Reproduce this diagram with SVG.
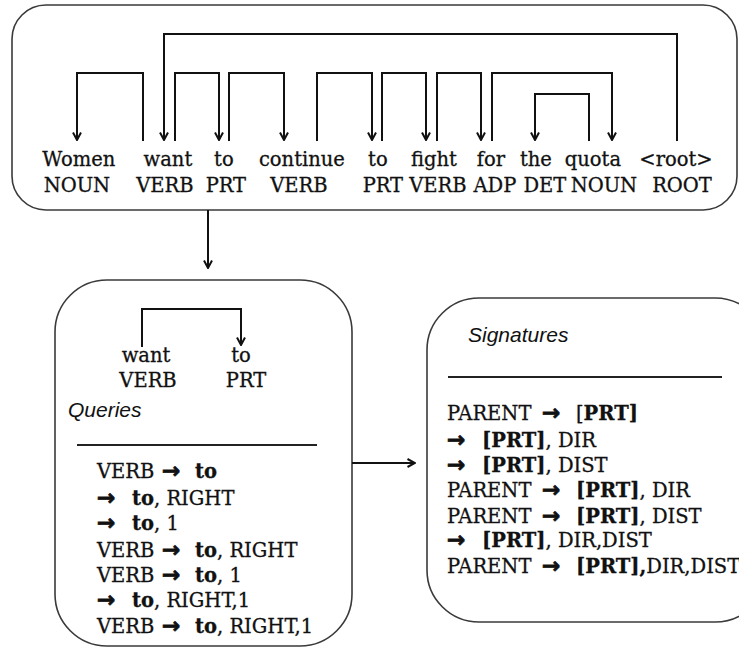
<svg xmlns="http://www.w3.org/2000/svg" width="739" height="649" viewBox="0 0 739 649">
  <style>
    .box { fill: #ffffff; stroke: #3a3a3a; stroke-width: 1.6; }
    .rule { stroke: #222; stroke-width: 2; }
    .arc-end { fill: none; stroke: #111; stroke-width: 2; marker-end: url(#head); }
    .w { font-family: "DejaVu Serif", "Liberation Serif", serif; font-size: 19.5px; fill: #111; stroke: #111; stroke-width: 0.3; text-anchor: middle; }
    .t { font-family: "DejaVu Serif", "Liberation Serif", serif; font-size: 19.5px; fill: #111; stroke: #111; stroke-width: 0.3; }
    .b { font-weight: bold; }
    .ar { font-family: "DejaVu Sans", sans-serif; font-weight: bold; font-size: 22px; stroke-width: 0.7; }
    .head { font-family: "Liberation Sans", "Open Sans", sans-serif; font-style: italic; font-size: 21px; fill: #111; }
  </style>
  <defs>
    <marker id="head" viewBox="0 0 10 10" refX="9" refY="5" markerWidth="10" markerHeight="10" markerUnits="userSpaceOnUse" orient="auto">
      <path d="M1.5,1 L9,5 L1.5,9" fill="none" stroke="#111" stroke-width="2"/>
    </marker>
  </defs>

  <!-- sentence with its dependency parse -->
  <g id="sentence">
    <rect class="box" x="12" y="5" width="725" height="205" rx="34"/>
    <text class="w" y="166">
      <tspan x="82">Women</tspan>
      <tspan x="171">want</tspan>
      <tspan x="227">to</tspan>
      <tspan x="305">continue</tspan>
      <tspan x="381">to</tspan>
      <tspan x="437">fight</tspan>
      <tspan x="494">for</tspan>
      <tspan x="539">the</tspan>
      <tspan x="596">quota</tspan>
      <tspan x="676">&lt;root&gt;</tspan>
    </text>
    <text class="w" y="192">
      <tspan x="80">NOUN</tspan>
      <tspan x="168">VERB</tspan>
      <tspan x="229">PRT</tspan>
      <tspan x="302">VERB</tspan>
      <tspan x="386">PRT</tspan>
      <tspan x="441">VERB</tspan>
      <tspan x="498">ADP</tspan>
      <tspan x="548">DET</tspan>
      <tspan x="607">NOUN</tspan>
      <tspan x="682">ROOT</tspan>
    </text>
  </g>

  <!-- extracted arc and its queries -->
  <g id="queries">
    <rect class="box" x="55" y="280" width="297" height="366" rx="52"/>
    <text class="w" y="362"><tspan x="146">want</tspan><tspan x="241">to</tspan></text>
    <text class="w" y="387"><tspan x="148">VERB</tspan><tspan x="246">PRT</tspan></text>
    <text class="head" x="68" y="417">Queries</text>
    <line class="rule" x1="77" y1="445" x2="317" y2="445"/>
    <text class="t" y="478"><tspan x="97">VERB</tspan><tspan class="ar" x="162">→</tspan><tspan class="b" x="195">to</tspan></text>
    <text class="t" y="505"><tspan class="ar" x="97">→</tspan><tspan class="b" x="132">to</tspan><tspan>, RIGHT</tspan></text>
    <text class="t" y="530"><tspan class="ar" x="97">→</tspan><tspan class="b" x="132">to</tspan><tspan>, 1</tspan></text>
    <text class="t" y="557"><tspan x="97">VERB</tspan><tspan class="ar" x="162">→</tspan><tspan class="b" x="195">to</tspan><tspan>, RIGHT</tspan></text>
    <text class="t" y="582"><tspan x="97">VERB</tspan><tspan class="ar" x="162">→</tspan><tspan class="b" x="195">to</tspan><tspan>, 1</tspan></text>
    <text class="t" y="607"><tspan class="ar" x="97">→</tspan><tspan class="b" x="132">to</tspan><tspan>, RIGHT,1</tspan></text>
    <text class="t" y="633"><tspan x="97">VERB</tspan><tspan class="ar" x="162">→</tspan><tspan class="b" x="195">to</tspan><tspan>, RIGHT,1</tspan></text>
  </g>

  <!-- generalised signatures -->
  <g id="signatures">
    <rect class="box" x="427" y="298" width="340" height="324" rx="52"/>
    <text class="head" x="468" y="342">Signatures</text>
    <line class="rule" x1="448" y1="377" x2="722" y2="377"/>
    <text class="t" y="420"><tspan x="447">PARENT</tspan><tspan class="ar" x="542">→</tspan><tspan x="576">[</tspan><tspan class="b">PRT]</tspan></text>
    <text class="t" y="447"><tspan class="ar" x="447">→</tspan><tspan class="b" x="482">[PRT]</tspan><tspan>, DIR</tspan></text>
    <text class="t" y="472"><tspan class="ar" x="447">→</tspan><tspan class="b" x="482">[PRT]</tspan><tspan>, DIST</tspan></text>
    <text class="t" y="497"><tspan x="447">PARENT</tspan><tspan class="ar" x="542">→</tspan><tspan class="b" x="576">[PRT]</tspan><tspan>, DIR</tspan></text>
    <text class="t" y="523"><tspan x="447">PARENT</tspan><tspan class="ar" x="542">→</tspan><tspan class="b" x="576">[PRT]</tspan><tspan>, DIST</tspan></text>
    <text class="t" y="547"><tspan class="ar" x="447">→</tspan><tspan class="b" x="482">[PRT]</tspan><tspan>, DIR,DIST</tspan></text>
    <text class="t" y="573"><tspan x="447">PARENT</tspan><tspan class="ar" x="542">→</tspan><tspan class="b" x="576">[PRT],</tspan><tspan>DIR,DIST</tspan></text>
  </g>

  <g id="connectors">
    <!-- dependency arcs of the sentence -->
    <g id="dependency-arcs">
      <path class="arc-end" d="M143,141 V73 H77 V140"/>
      <path class="arc-end" d="M677,141 V34 H164 V140"/>
      <path class="arc-end" d="M175,141 V73 H219 V140"/>
      <path class="arc-end" d="M229,141 V73 H284 V140"/>
      <path class="arc-end" d="M317,141 V73 H372 V140"/>
      <path class="arc-end" d="M382,141 V73 H426 V140"/>
      <path class="arc-end" d="M437,141 V73 H481 V140"/>
      <path class="arc-end" d="M492,141 V73 H612 V140"/>
      <path class="arc-end" d="M589,141 V94 H535 V140"/>
      <!-- single arc in the query box -->
      <path class="arc-end" d="M142,347 V309 H241 V345"/>
    </g>
    <!-- flow between the boxes -->
    <path class="arc-end" d="M208,210 V268"/>
    <path class="arc-end" d="M352,463 H415"/>
  </g>
</svg>
